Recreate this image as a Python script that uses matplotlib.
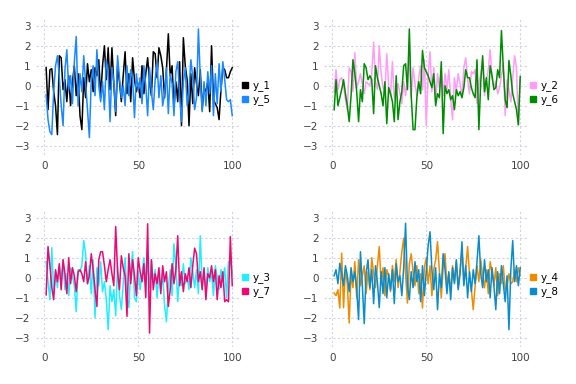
import numpy as np
import matplotlib.pyplot as plt
from matplotlib.lines import Line2D

x = np.arange(1, 101)

y_1 = [0.9, -1.2, 0.8, 0.85, -0.3, -1.0, -2.45, 1.5, 1.4, -0.2,
       0.3, -0.8, 0.5, -1.0, 0.2, 1.0, -0.5, 0.6, -1.5, -2.2,
       0.4, -0.6, 1.1, 0.2, 0.8, -0.3, 0.9, 0.5, 1.3, -0.6,
       1.0, 2.0, 0.3, 1.9, -0.2, 1.9, 0.1, -1.5, 1.0, 0.2,
       -0.8, 0.5, 1.7, -0.4, 0.6, -0.8, 1.4, 0.3, -0.3, 0.1,
       -0.6, 1.0, -0.4, 0.6, 1.4, 0.2, -0.5, 1.7, 1.6, 0.4,
       1.9, 1.5, 0.9, -0.6, 0.8, 2.6, 0.5, 1.0, -1.1, 0.2,
       -0.8, 1.2, -2.0, 2.4, 1.0, 0.3, -2.0, 0.6, -0.9, 0.9,
       0.1, -0.5, 0.8, -1.2, -0.1, -0.3, 0.2, -1.3, 2.0, -0.7,
       -0.9, -1.1, -1.7, -0.2, 0.9, 0.8, 0.4, 0.4, 0.7, 0.9]
y_5 = [-0.45, -1.7, -2.3, -2.45, -0.3, 1.0, 1.5, 0.4, -1.0, -2.0,
       0.8, 1.8, -0.2, 0.5, -0.9, 1.2, 2.46, -1.0, 0.6, -0.3,
       1.5, 0.1, -1.2, -2.6, 0.3, 1.0, -0.5, 1.8, 0.0, -0.8,
       0.2, -1.2, 1.3, 0.6, -1.8, 0.9, 0.2, -1.3, 1.5, 0.4,
       -0.6, 0.0, -1.0, 1.0, -0.5, 0.8, 0.3, -1.6, 0.6, -0.2,
       0.4, -0.9, 1.0, 0.0, -1.5, 0.9, -0.3, -1.2, 0.3, 1.2,
       -0.6, 0.5, -1.0, -0.4, 0.9, -1.4, 0.6, 0.1, -1.5, 0.7,
       1.2, -0.5, -1.8, 0.2, 0.9, -1.0, -0.2, 1.3, 0.4, -1.2,
       -0.6, 2.84, 0.4, -1.3, 0.2, -1.0, 0.7, -0.4, 1.0, -1.5,
       0.6, -0.9, 1.1, -0.3, 1.2, 0.3, -0.7, -0.8, -0.7, -1.5]
y_2 = [-0.3, 0.8, -0.2, 0.3, 0.4, 0.0, -0.7, -1.2, 0.9, 0.7,
       -0.3, 1.66, -0.1, 0.2, 0.6, 0.1, -0.4, 0.2, 0.1, 0.0,
       0.6, 2.18, 0.2, -0.2, 2.0, 0.6, -0.1, -0.3, 1.6, 0.0,
       -0.5, 1.2, -0.6, -0.2, 0.1, -0.4, -0.9, 0.2, -0.5, 0.3,
       1.3, -0.6, 0.9, 0.1, -0.5, 0.4, 1.0, -0.2, 1.3, -2.0,
       0.5, 1.7, -0.3, 0.9, -0.8, 0.6, -0.1, 0.8, -0.5, 0.6,
       -0.2, 0.8, -0.6, -1.7, 0.4, -0.3, 0.6, 0.1, -0.6, 0.9,
       1.4, 0.3, -0.4, 0.7, 0.6, 0.8, -0.9, 0.1, 0.6, 1.2,
       -0.5, 0.3, 0.8, 1.8, 0.4, -0.1, 0.2, -0.4, -0.1, 0.5,
       1.1, -1.5, 0.3, -0.2, -0.8, 0.4, 1.5, 0.9, -1.96, 0.3]
y_6 = [-1.2, 0.3, -1.0, -0.6, -0.2, 0.3, -0.4, -1.0, -1.8, -0.5,
       1.3, 0.6, -0.3, -1.8, -0.2, -0.8, 1.1, 0.9, 0.3, 0.5,
       0.3, -1.4, 1.0, 0.4, 0.0, -0.4, -1.0, 0.2, -1.9, -0.1,
       -0.4, -0.8, -1.8, 0.5, -1.7, -0.8, -0.3, 1.0, 1.1, -0.2,
       2.84, -0.5, -2.2, -2.2, -0.6, 0.2, -0.4, 1.76, 0.9, 0.7,
       0.5, 0.2, -0.1, 0.6, -1.0, -0.4, -0.6, 1.2, -2.4, 0.0,
       -0.4, -0.2, -0.7, -0.5, -1.2, -0.2, -0.5, -0.3, -0.6, -0.1,
       0.8, 0.4, 0.4, -0.1, -0.4, -0.6, 1.3, -2.2, 0.2, 1.5,
       -0.3, 0.4, -0.7, 1.0, 0.5, -0.2, -0.1, 0.8, 0.4, 2.76,
       0.9, -0.7, -1.1, 1.26, 0.5, -0.4, -0.8, -1.2, -1.96, 0.46]
y_3 = [0.8, -0.2, -1.1, 1.5, -0.8, 0.3, -0.5, 0.6, -0.2, 0.9,
       -0.6, 0.2, -0.9, 0.5, 0.1, -0.4, -1.7, 0.4, 0.3, 0.6,
       1.86, 1.2, -0.3, 0.6, -0.8, 0.9, -2.0, 0.5, -0.4, 0.8,
       -0.7, -0.2, -1.1, -2.6, -0.4, -1.2, -0.6, -1.9, 0.6, -0.9,
       -1.6, -0.3, 1.0, -1.0, -1.5, 0.4, 1.3, -1.0, -1.2, 0.3,
       -0.6, 0.2, 1.0, -0.3, 0.8, -0.5, 0.9, -0.2, 0.4, -1.0,
       0.3, -0.6, 0.2, -1.4, -2.2, -0.5, 0.4, -0.9, 1.7, 0.6,
       -1.2, 0.2, -0.4, 0.7, -0.3, 0.1, -0.6, 1.0, 0.3, -0.5,
       0.4, -0.8, 2.1, -0.3, 0.2, -0.6, 0.5, -0.2, 0.3, -0.9,
       0.6, 0.0, -0.6, 0.4, -0.2, 0.5, -1.0, 0.8, 0.9, 0.2]
y_7 = [-0.86, 1.56, 0.6, -0.5, -1.1, 0.4, -0.2, 0.7, -0.6, 0.9,
       0.2, -0.8, 1.0, -0.3, 0.5, 0.1, -0.7, 0.3, 0.4, 0.2,
       -0.2, 0.8, -0.3, 0.1, 1.2, 0.4, -0.6, -1.44, 0.9, 1.3,
       1.3, 0.6, -0.2, 0.4, 0.9, 0.2, -0.4, 2.56, 0.3, -0.6,
       1.1, 0.5, 0.1, -1.94, 1.2, -0.3, 0.9, 0.1, -0.9, 1.0,
       0.3, -0.2, 0.7, -1.0, 2.7, -2.77, 0.9, -0.6, 0.2, -0.3,
       0.5, -0.8, 0.6, -0.2, 0.3, -1.44, -0.6, 0.7, -0.3, 0.4,
       2.1, -0.4, 0.3, -0.7, 0.2, -0.2, 0.5, -0.5, 0.6, 1.48,
       1.2, -0.2, 0.3, -0.6, 0.5, -1.1, 0.2, 0.0, 0.6, -0.2,
       0.4, -1.1, 0.1, -0.5, 0.3, -1.2, -1.1, -1.2, 2.06, -0.4]
y_4 = [-0.77, -0.9, -0.6, -1.52, 1.23, -1.5, 0.4, -0.3, -2.27, 0.2,
       -0.5, 0.8, -1.0, 0.9, -0.4, 0.1, 0.6, -0.8, 0.3, -0.6,
       1.0, 0.2, -0.5, 0.6, 1.56, -0.3, 0.5, -0.9, 0.4, 0.1,
       -0.7, 0.6, -0.2, 0.9, -0.5, 0.3, 1.3, 1.98, 0.2, -1.27,
       0.7, 1.2, 0.3, -0.4, 0.6, -0.8, 0.2, -1.52, 0.5, 1.0,
       -0.3, 0.6, -0.9, 0.4, 0.9, 1.8, 0.3, -1.0, 0.5, 1.2,
       -0.4, 0.2, -0.7, 0.6, -0.2, 0.8, -0.5, 0.4, 1.4, -0.3,
       0.5, 1.56, 0.2, -0.6, -1.6, -0.4, 0.6, -0.2, 0.9, 0.1,
       -0.5, 0.4, -0.8, 0.8, 0.3, -0.4, 0.5, -0.9, 0.2, -0.3,
       0.6, -0.6, -0.4, 0.2, -0.3, -0.2, 0.4, -0.2, 0.5, 0.1]
y_8 = [0.1, 0.4, -0.3, 0.72, 0.2, -0.4, 0.6, 0.1, -0.7, 0.5,
       -0.2, 0.3, -0.6, -2.1, 1.3, -0.4, -2.3, 0.2, 0.9, -0.5,
       0.4, -1.3, 0.6, -0.2, -1.5, 0.3, -0.8, 0.5, -1.0, 0.2,
       -0.6, 0.4, -1.3, 0.7, -0.2, 0.1, -0.9, 0.5, 2.73, -0.4,
       -1.1, 0.3, -0.5, 0.8, -0.2, 0.4, -1.2, 0.6, -0.9, 0.3,
       1.6, 2.3, 0.4, -0.6, 0.5, -1.6, 0.2, -0.5, 1.2, 0.4,
       -0.8, 0.3, -1.1, 0.5, -0.3, 0.9, -0.6, 0.2, 1.8, -0.4,
       0.6, -1.0, 0.3, -0.7, 0.4, -0.3, 0.8, 2.1, 0.2, -0.5,
       0.9, -0.2, 0.4, -1.0, 0.5, -0.4, -1.6, 0.3, -0.8, 0.6,
       -0.3, -1.2, 0.1, -2.6, 0.4, 1.86, -0.2, 0.6, -0.4, 0.5]

panels = [
    [("y_1", y_1, "#000000"), ("y_5", y_5, "#1a88ff")],
    [("y_2", y_2, "#ff9cf7"), ("y_6", y_6, "#008c00")],
    [("y_3", y_3, "#22eeff"), ("y_7", y_7, "#ea0a74")],
    [("y_4", y_4, "#ee8c00"), ("y_8", y_8, "#0a8ccc")],
]

W, H = 576, 384
fig = plt.figure(figsize=(W / 100, H / 100), dpi=100)

for k, series in enumerate(panels):
    row, col = divmod(k, 2)
    left = 36 + 288 * col
    top = 19 + 192 * row
    ax = fig.add_axes([left / W, 1 - (top + 136) / H, 203 / W, 136 / H])
    for name, vals, c in series:
        ax.plot(x, vals, color=c, lw=1.1, label=name)
    ax.set_xlim(-4.4, 103.6)
    ax.set_ylim(-3.47, 3.34)
    ax.set_xticks([0, 50, 100])
    ax.set_yticks([-3, -2, -1, 0, 1, 2, 3])
    ax.grid(True, color="#d2d2e2", linestyle=(0, (2, 2)), linewidth=0.8)
    for s in ax.spines.values():
        s.set_visible(False)
    ax.tick_params(length=0, labelsize=7.5, labelcolor="#404040", pad=4)
    handles = [Line2D([], [], marker="s", linestyle="None", color=c,
                      markersize=4.5) for _, _, c in series]
    ax.legend(handles, [n for n, _, _ in series], loc="upper left",
              bbox_to_anchor=(1.01, 0.55), frameon=False, fontsize=7.5,
              handlelength=0.8, handletextpad=0.3, borderpad=0,
              labelspacing=0.3, borderaxespad=0)

plt.savefig("out.png", dpi=100)
